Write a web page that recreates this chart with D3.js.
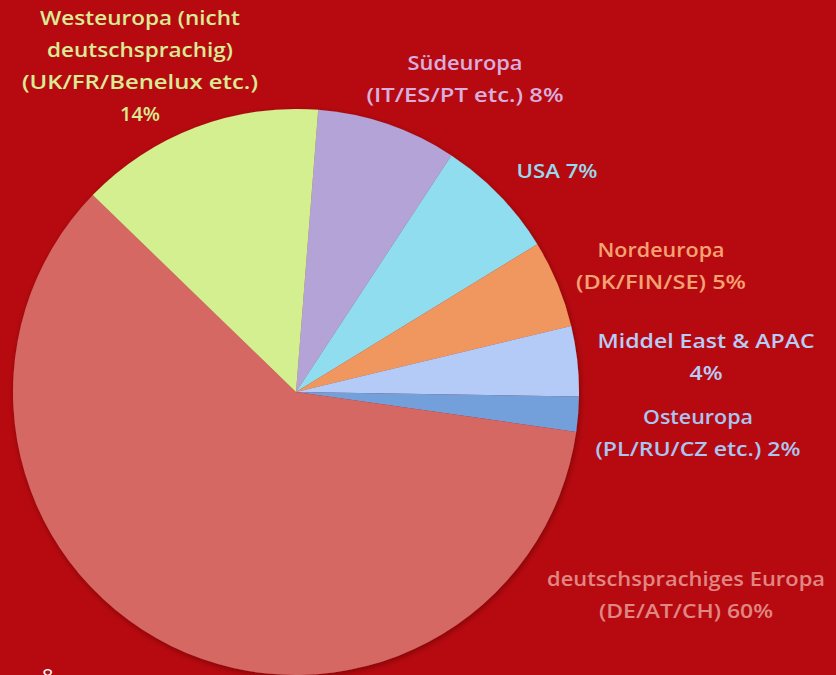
<!DOCTYPE html>
<html><head><meta charset="utf-8">
<script src="https://cdn.jsdelivr.net/npm/d3@7"></script>
<style>html,body{margin:0;padding:0;background:#B70A10;overflow:hidden}</style>
</head><body>
<script>
const categories = ["Südeuropa","USA","Nordeuropa","Middel East & APAC","Osteuropa","deutschsprachiges Europa","Westeuropa"];
const values = [8,7,5,4,2,60,14];
const labelLines = [
  ["Südeuropa","(IT/ES/PT etc.) 8%"],
  ["USA 7%"],
  ["Nordeuropa","(DK/FIN/SE) 5%"],
  ["Middel East & APAC","4%"],
  ["Osteuropa","(PL/RU/CZ etc.) 2%"],
  ["deutschsprachiges  Europa","(DE/AT/CH)  60%"],
  ["Westeuropa  (nicht","deutschsprachig)","(UK/FR/Benelux etc.)","14%"]
];
const sliceColors = ["#B4A3D6","#90DDF0","#F0975F","#B5CBF7","#739FDB","#D66864","#D4EF90"];
const textColors  = ["#D8B0DE","#96DAEE","#F4A272","#B6CDF6","#A9C6F2","#E08683","#D9EB95"];
const labelPos = [[465,70],[557,178],[661,257],[706,348],[698,424],[686,586],[140,25]];
const labelWidths = [[115,197],[81],[127,170],[217,33],[110,205],[278,174],[200,186,236,40]];

const W=836,H=675, cx=296, cy=392, R=283;
const svg=d3.select("body").append("svg").attr("width",W).attr("height",H);
svg.append("rect").attr("width",W).attr("height",H).attr("fill","#B70A10");
const defs=svg.append("defs");
const f=defs.append("filter").attr("id","sh").attr("x","-20%").attr("y","-20%").attr("width","140%").attr("height","140%");
f.append("feGaussianBlur").attr("in","SourceAlpha").attr("stdDeviation",3);
f.append("feOffset").attr("dx",1).attr("dy",2).attr("result","b");
f.append("feFlood").attr("flood-color","#5a0005").attr("flood-opacity",0.6);
f.append("feComposite").attr("in2","b").attr("operator","in");
const m=f.append("feMerge"); m.append("feMergeNode"); m.append("feMergeNode").attr("in","SourceGraphic");

const start = 4.5*Math.PI/180;
const pie=d3.pie().sort(null).value(d=>d).startAngle(start).endAngle(start+2*Math.PI);
const arc=d3.arc().innerRadius(0).outerRadius(R);
const g=svg.append("g").attr("transform",`translate(${cx},${cy})`).attr("filter","url(#sh)");
g.selectAll("path").data(pie(values)).join("path").attr("d",arc).attr("fill",(d,i)=>sliceColors[i]);

categories.forEach((c,i)=>{
  const t=svg.append("text").attr("text-anchor","middle")
    .attr("font-family","'Open Sans', sans-serif").attr("font-weight",600)
    .attr("font-size",20).attr("fill",textColors[i]);
  labelLines[i].forEach((ln,j)=>{
    t.append("tspan").attr("x",labelPos[i][0]).attr("y",labelPos[i][1]+j*32)
     .attr("textLength",labelWidths[i][j]).attr("lengthAdjust","spacingAndGlyphs").text(ln);
  });
});
svg.append("text").attr("x",42).attr("y",683).attr("font-family","'Open Sans', sans-serif")
  .attr("font-size",20).attr("fill","#ffffff").text("8");
</script>
</body></html>
